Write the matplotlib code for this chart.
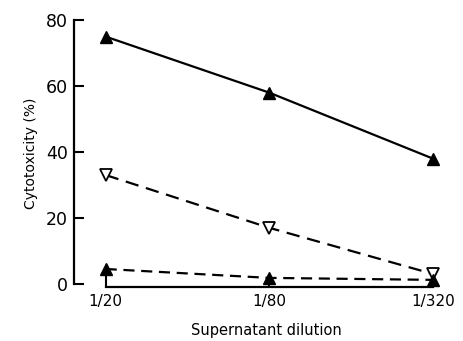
import matplotlib
matplotlib.use("Agg")
import matplotlib.pyplot as plt

dilutions = ["1/20", "1/80", "1/320"]
high_solid = [75, 58, 38]
open_dashed = [33, 17, 3]
low_dashed = [4.5, 1.8, 1.2]
y_ticks = [0, 20, 40, 60, 80]

plt.rcParams["font.family"] = "DejaVu Sans"

fig = plt.figure(figsize=(4.64, 3.41), dpi=100)
ax = fig.add_axes([0.159, 0.158, 0.832, 0.783])

pos = range(len(dilutions))
ax.plot(pos, high_solid, color="black", lw=1.6, marker="^", ms=9,
        mfc="black", mec="black", zorder=3)
ax.plot(pos, open_dashed, color="black", lw=1.6, ls=(0, (6, 3.5)),
        marker="v", ms=9, mfc="white", mec="black", mew=1.3, zorder=3)
ax.plot(pos, low_dashed, color="black", lw=1.6, ls=(0, (5, 3)),
        marker="^", ms=9, mfc="black", mec="black", zorder=3)

ax.set_xlim(-0.195, 2.165)
ax.set_ylim(-1.0, 80)

for side in ("top", "right"):
    ax.spines[side].set_visible(False)
ax.spines["left"].set_bounds(0, 80)
ax.spines["bottom"].set_bounds(0, 2)
ax.spines["left"].set_linewidth(1.6)
ax.spines["bottom"].set_linewidth(1.6)

ax.set_yticks(y_ticks)
ax.set_xticks(list(pos))
ax.set_xticklabels(dilutions)
ax.tick_params(axis="y", direction="in", length=7, width=1.5,
               labelsize=12.5, pad=4)
ax.tick_params(axis="x", direction="in", length=9, width=1.5,
               labelsize=11, pad=5)

ax.set_ylabel("Cytotoxicity (%)", fontsize=10, labelpad=6)
ax.set_xlabel("Supernatant dilution", fontsize=10.5, labelpad=10)

fig.savefig("out.png", dpi=100)
